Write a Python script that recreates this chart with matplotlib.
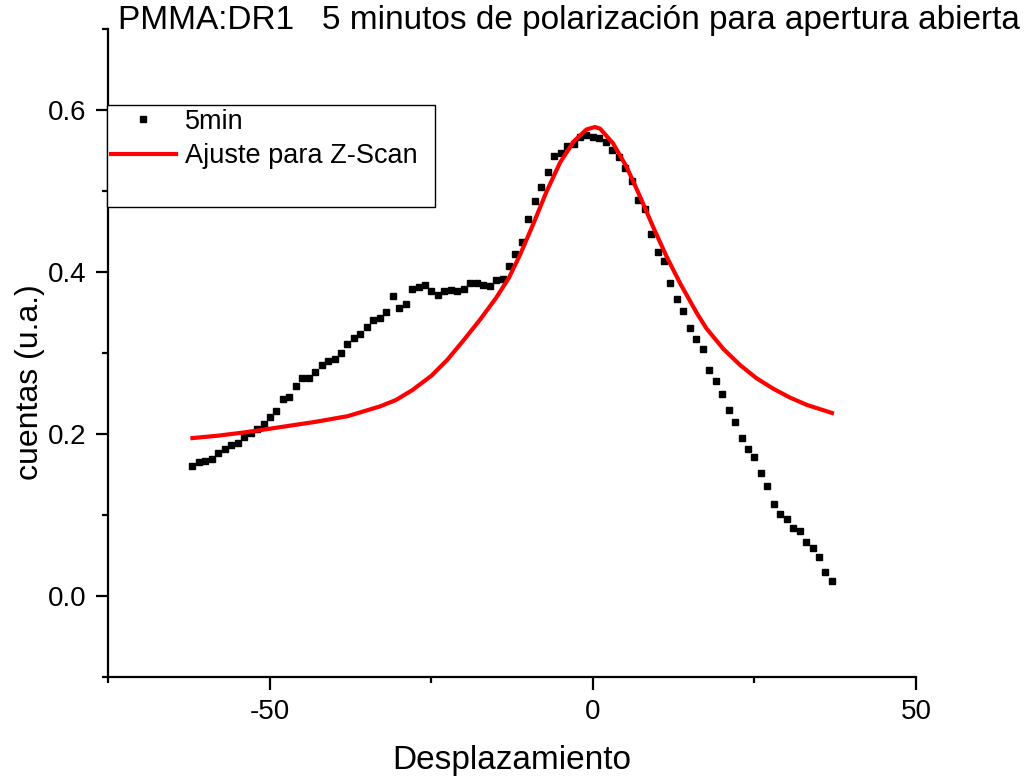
import numpy as np
import matplotlib
matplotlib.use("Agg")
import matplotlib.pyplot as plt
from matplotlib.lines import Line2D

plt.rcParams['font.family'] = ['Liberation Sans', 'DejaVu Sans']
plt.rcParams['axes.unicode_minus'] = False

# measured points (5 min poling)
z_pos = [-62, -61, -60, -59, -58, -57, -56, -55, -54, -53, -52, -51, -50, -49,
         -48, -47, -46, -45, -44, -43, -42, -41, -40, -39, -38, -37, -36, -35,
         -34, -33, -32, -31, -30, -29, -28, -27, -26, -25, -24, -23, -22, -21,
         -20, -19, -18, -17, -16, -15, -14, -13, -12, -11, -10, -9, -8, -7,
         -6, -5, -4, -3, -2, -1, 0, 1, 2, 3, 4, 5, 6, 7, 8, 9, 10, 11, 12, 13,
         14, 15, 16, 17, 18, 19, 20, 21, 22, 23, 24, 25, 26, 27, 28, 29, 30,
         31, 32, 33, 34, 35, 36, 37]
counts = [0.160, 0.166, 0.167, 0.169, 0.177, 0.181, 0.186, 0.189, 0.196, 0.201,
          0.206, 0.213, 0.221, 0.229, 0.243, 0.246, 0.259, 0.269, 0.269, 0.276,
          0.285, 0.290, 0.293, 0.300, 0.311, 0.318, 0.323, 0.332, 0.341, 0.343,
          0.351, 0.370, 0.356, 0.360, 0.379, 0.382, 0.384, 0.376, 0.372, 0.377,
          0.378, 0.377, 0.379, 0.387, 0.386, 0.384, 0.383, 0.390, 0.392, 0.407,
          0.422, 0.437, 0.466, 0.488, 0.505, 0.523, 0.543, 0.547, 0.555, 0.558,
          0.567, 0.569, 0.567, 0.565, 0.561, 0.551, 0.542, 0.529, 0.512, 0.489,
          0.478, 0.447, 0.425, 0.413, 0.387, 0.367, 0.352, 0.331, 0.317, 0.305,
          0.279, 0.265, 0.249, 0.230, 0.215, 0.195, 0.182, 0.172, 0.152, 0.136,
          0.114, 0.101, 0.095, 0.084, 0.080, 0.067, 0.059, 0.048, 0.030, 0.018]

# Z-scan fit curve
fit_z = [-62, -58, -53, -48, -43, -38, -33, -30.5, -28, -25, -22.5, -20, -17.5,
         -15, -13, -11.3, -9.2, -7.2, -5.1, -3, -1, 0.3, 1.1, 3.1, 5.2, 7.3,
         9.3, 11.4, 13.5, 16.1, 17.6, 20.2, 22.8, 25.3, 27.9, 30.5, 33.1, 37]
fit_counts = [0.195, 0.198, 0.203, 0.209, 0.215, 0.222, 0.234, 0.242, 0.254,
              0.272, 0.292, 0.316, 0.341, 0.368, 0.393, 0.421, 0.460, 0.499,
              0.535, 0.561, 0.576, 0.579, 0.577, 0.559, 0.530, 0.493, 0.456,
              0.419, 0.386, 0.349, 0.330, 0.305, 0.285, 0.269, 0.256, 0.245,
              0.236, 0.226]

fig = plt.figure(figsize=(10.36, 7.8), dpi=100)
ax = fig.add_axes([0.1047, 0.132, 0.7794, 0.8308])

ax.plot(z_pos, counts, 's', color='black', markersize=5, label='5min')
ax.plot(fit_z, fit_counts, '-', color='#ff0000', lw=3,
        solid_joinstyle='round', label='Ajuste para Z-Scan')

ax.set_xlim(-75, 50)
ax.set_ylim(-0.1, 0.7)
ax.set_xticks([-50, 0, 50])
ax.set_xticks([-75, -25, 25], minor=True)
ax.set_yticks([0.0, 0.2, 0.4, 0.6])
ax.set_yticks([-0.1, 0.1, 0.3, 0.5, 0.7], minor=True)
ax.set_yticklabels(['0.0', '0.2', '0.4', '0.6'])

for s in ['top', 'right']:
    ax.spines[s].set_visible(False)
for s in ['left', 'bottom']:
    ax.spines[s].set_linewidth(1.6)

ax.tick_params(which='major', direction='out', length=9, width=1.6,
               labelsize=20, pad=7)
ax.tick_params(which='minor', direction='out', length=4.5, width=1.6)

ax.set_xlabel('Desplazamiento', fontsize=24)
ax.xaxis.set_label_coords(0.5, -0.105)
ax.set_ylabel('cuentas (u.a.)', fontsize=23)
ax.yaxis.set_label_coords(-0.079, 0.455)

handles, labels = ax.get_legend_handles_labels()
handles.append(Line2D([], [], alpha=0))
labels.append(' ')
leg = ax.legend(handles, labels, loc='upper left',
                bbox_to_anchor=(-0.002, 0.729, 0.406, 0.154), mode='expand',
                borderaxespad=0, borderpad=0.15, labelspacing=0.3,
                handlelength=2.4, handletextpad=0.35, fontsize=19.5,
                fancybox=False, framealpha=1, edgecolor='black')
leg.get_frame().set_linewidth(1.0)

fig.text(118 / 1036, 1 - 20 / 780,
         'PMMA:DR1   5 minutos de polarización para apertura abierta',
         fontsize=24, ha='left', va='center')

fig.savefig('out.png', dpi=100)
